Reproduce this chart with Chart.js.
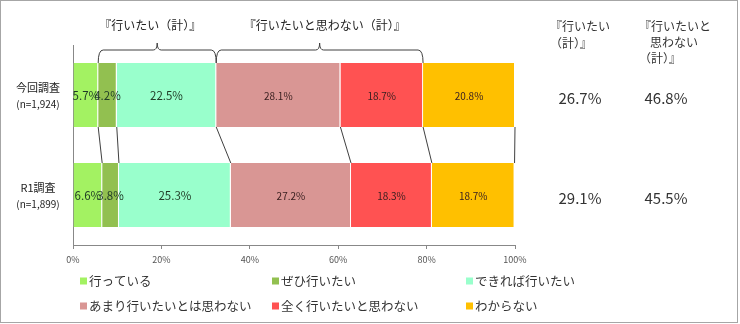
<!DOCTYPE html>
<html lang="ja">
<head>
<meta charset="UTF-8">
<title>行きたい意向</title>
<script src="https://cdn.jsdelivr.net/npm/chart.js"></script>
<style>
  html, body { margin: 0; padding: 0; background: #fff; }
  canvas { display: block; }
</style>
</head>
<body>
<canvas id="chart" width="740" height="324"></canvas>
<script>
const surveys = ["今回調査", "R1調査"];
const sampleSizes = ["(n=1,924)", "(n=1,899)"];
const answers = ["行っている", "ぜひ行いたい", "できれば行いたい",
  "あまり行いたいとは思わない", "全く行いたいと思わない", "わからない"];
const goingNow = [5.7, 6.6];
const wantSurely = [4.2, 3.8];
const wantIfPossible = [22.5, 25.3];
const notReally = [28.1, 27.2];
const notAtAll = [18.7, 18.3];
const dontKnow = [20.8, 18.7];
const xTicks = [0, 20, 40, 60, 80, 100];

// groups summed in the bracket captions and right-hand columns
const wantGroup = [1, 2];
const notWantGroup = [3, 4];
const wantCaption = "『行いたい（計）』";
const notWantCaption = "『行いたいと思わない（計）』";
const wantHeader = ["『行いたい", "（計）』"];
const notWantHeader = ["『行いたいと", "思わない", "（計）』"];

const colors = ["#a3f262", "#92c050", "#99ffcc", "#d99694", "#ff5252", "#ffc000"];
const FONT = '"Noto Sans CJK JP", "Noto Sans", sans-serif';

const seriesValues = [goingNow, wantSurely, wantIfPossible, notReally, notAtAll, dontKnow];

const extras = {
  id: "extras",
  beforeDraw(chart) {
    const c = chart.ctx;
    c.save();
    c.fillStyle = "#fff";
    c.fillRect(0, 0, chart.width, chart.height);
    c.restore();
  },
  afterDatasetsDraw(chart) {
    const c = chart.ctx;
    const metas = seriesValues.map((_, i) => chart.getDatasetMeta(i));
    c.save();

    // series lines between the two bars
    c.strokeStyle = "#404040";
    c.lineWidth = 1;
    metas.forEach(m => {
      const a = m.data[0], b = m.data[1];
      c.beginPath();
      c.moveTo(a.x, a.y + a.height / 2);
      c.lineTo(b.x, b.y - b.height / 2);
      c.stroke();
    });

    // value labels inside segments
    c.textAlign = "center";
    c.textBaseline = "middle";
    metas.forEach((m, i) => {
      m.data.forEach((el, j) => {
        c.font = (i < 3 ? "11.5px " : "10px ") + FONT;
        c.fillStyle = i < 3 ? "#1f3b26" : "#3a2020";
        c.fillText(seriesValues[i][j].toFixed(1) + "%", (el.base + el.x) / 2, el.y + 1);
      });
    });

    // curly brackets over the first bar
    const top = metas[0].data[0].y - metas[0].data[0].height / 2;
    const yLine = top - 13;
    const brace = (group, caption, shift) => {
      const x0 = metas[group[0]].data[0].base;
      const x1 = metas[group[group.length - 1]].data[0].x;
      const cx = (x0 + x1) / 2;
      c.strokeStyle = "#404040";
      c.beginPath();
      c.moveTo(x0, top);
      c.quadraticCurveTo(x0, yLine, x0 + 5, yLine);
      c.lineTo(cx - 4, yLine);
      c.quadraticCurveTo(cx, yLine, cx, yLine - 7);
      c.quadraticCurveTo(cx, yLine, cx + 4, yLine);
      c.lineTo(x1 - 5, yLine);
      c.quadraticCurveTo(x1, yLine, x1, top);
      c.stroke();
      c.font = "12px " + FONT;
      c.fillStyle = "#222";
      c.fillText(caption, cx + shift, 25);
    };
    brace(wantGroup, wantCaption, -7);
    brace(notWantGroup, notWantCaption, 5);

    // category labels on the left
    metas[0].data.forEach((el, j) => {
      c.fillStyle = "#222";
      c.font = "11px " + FONT;
      c.fillText(surveys[j], 38, el.y - 7);
      c.font = "10px " + FONT;
      c.fillText(sampleSizes[j], 38, el.y + 9);
    });

    // totals columns on the right
    c.textAlign = "left";
    c.font = "12px " + FONT;
    c.fillStyle = "#333";
    wantHeader.forEach((t, k) => c.fillText(t, 550, 26 + k * 17));
    notWantHeader.forEach((t, k) => c.fillText(t, k === 1 ? 650 : 639, 26 + k * 16));
    c.textAlign = "center";
    c.font = "15px " + FONT;
    metas[0].data.forEach((el, j) => {
      const sum = g => g.reduce((s, i) => s + seriesValues[i][j], 0).toFixed(1) + "%";
      c.fillText(sum(wantGroup), 580, el.y + 3);
      c.fillText(sum(notWantGroup), 666, el.y + 3);
    });

    // legend, three per row
    c.textAlign = "left";
    c.font = "12.5px " + FONT;
    answers.forEach((t, i) => {
      const x = [80, 272, 466][i % 3];
      const y = i < 3 ? 281 : 306;
      c.fillStyle = colors[i];
      c.fillRect(x, y - 3.5, 7, 7);
      c.fillStyle = "#333";
      c.fillText(t, x + 9, y);
    });

    // outer frame
    c.strokeStyle = "#a6a6a6";
    c.strokeRect(0.5, 0.5, 737, 322);
    c.restore();
  }
};

new Chart(document.getElementById("chart"), {
  type: "bar",
  data: {
    labels: surveys,
    datasets: seriesValues.map((v, i) => ({
      label: answers[i],
      data: v,
      backgroundColor: colors[i],
      borderColor: "#ffffff",
      borderWidth: { top: 0, bottom: 0, left: 0, right: 1 },
      borderSkipped: false,
      categoryPercentage: 0.64,
      barPercentage: 1
    }))
  },
  options: {
    indexAxis: "y",
    responsive: false,
    animation: false,
    layout: { padding: { left: 73, right: 225, top: 45, bottom: 0 } },
    plugins: { legend: { display: false }, tooltip: { enabled: false } },
    scales: {
      x: {
        stacked: true,
        min: 0,
        max: 100,
        afterBuildTicks: s => { s.ticks = xTicks.map(v => ({ value: v })); },
        afterFit: s => { s.height = 79; },
        ticks: {
          callback: v => v + "%",
          font: { size: 9, family: FONT },
          color: "#555",
          padding: 5,
          maxRotation: 0
        },
        grid: { drawOnChartArea: false, tickLength: 4, color: "#888" },
        border: { color: "#888" }
      },
      y: {
        stacked: true,
        ticks: { display: false },
        grid: { display: false },
        border: { display: true, color: "#888" },
        afterFit: s => { s.width = 0; }
      }
    }
  },
  plugins: [extras]
});
</script>
</body>
</html>
